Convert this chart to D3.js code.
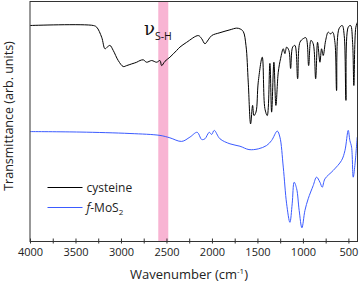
<!DOCTYPE html>
<html>
<head>
<meta charset="utf-8">
<script src="https://cdn.jsdelivr.net/npm/d3@7"></script>
<style>
  body { margin: 0; background: #fff; }
  svg { display: block; font-family: "Open Sans", sans-serif; }
</style>
</head>
<body>
<script>
// cysteine spectrum: wavenumber (cm-1) and transmittance (arb. units)
const cysWave = [4000, 3304, 3267, 3212, 3176, 3151, 3121, 3085, 3030, 2975, 2937, 2882, 2827, 2791, 2755, 2718,
  2663, 2608, 2571, 2553, 2516, 2462, 2388, 2352, 2278, 2150, 2113, 2077, 2041, 2003, 1912, 1802, 1729, 1692,
  1656, 1626, 1601, 1575, 1553, 1538, 1516, 1491, 1447, 1418, 1392, 1363, 1344, 1319, 1297, 1271, 1245, 1216,
  1198, 1179, 1154, 1135, 1113, 1088, 1058, 1033, 997, 967, 937, 912, 887, 860, 839, 813, 795, 777, 750, 722,
  695, 673, 648, 630, 604, 568, 546, 527, 502, 476, 454, 440, 418, 400];
const cysT = [90.0, 90.0, 89.3, 85.1, 80.3, 81.0, 81.7, 79.6, 75.4, 72.9, 73.3, 74.0, 74.7, 75.4, 75.7, 74.7,
  75.4, 74.7, 75.4, 73.3, 75.1, 76.8, 79.6, 81.0, 83.0, 85.8, 84.5, 82.4, 84.0, 85.8, 87.0, 88.2, 88.9, 88.6,
  87.5, 81.7, 66.4, 49.0, 56.7, 52.5, 53.9, 66.4, 76.8, 55.4, 52.5, 74.2, 53.9, 74.7, 56.7, 70.5, 76.3, 80.3,
  78.3, 81.0, 79.6, 72.1, 81.0, 81.7, 67.8, 83.0, 84.5, 84.9, 73.3, 83.8, 82.4, 67.8, 83.0, 74.7, 80.3, 77.5,
  83.8, 87.2, 86.5, 87.2, 83.0, 62.9, 88.6, 90.0, 85.8, 58.8, 89.3, 90.0, 83.0, 65.0, 89.3, 91.4];

// f-MoS2 spectrum
const mosWave = [4000, 3451, 2901, 2571, 2462, 2333, 2242, 2162, 2113, 2077, 2030, 2003, 1975, 1912, 1802, 1692,
  1593, 1491, 1399, 1344, 1282, 1253, 1216, 1179, 1143, 1118, 1096, 1069, 1041, 1011, 978, 942, 887, 850,
  813, 788, 758, 667, 575, 538, 502, 484, 465, 447, 429, 403];
const mosT = [45.8, 45.6, 45.0, 44.2, 43.2, 41.7, 43.5, 45.5, 42.5, 42.8, 45.5, 44.6, 46.3, 42.8, 40.7, 39.7,
  38.3, 38.6, 40.0, 42.1, 46.0, 43.5, 31.0, 15.7, 8.0, 15.7, 24.7, 22.0, 12.9, 5.7, 12.9, 17.8, 23.3, 26.8,
  24.7, 22.6, 26.1, 29.6, 33.8, 37.9, 46.3, 42.1, 39.3, 26.8, 31.7, 43.5];

const xTicks = [4000, 3500, 3000, 2500, 2000, 1500, 1000, 500];
const xMinor = [3750, 3250, 2750, 2250, 1750, 1250, 750];
const bandRange = [2590, 2480]; // S-H stretch region

const width = 360, height = 284;
const plotLeft = 30, plotRight = 357.5, plotTop = 1.5, plotBottom = 241.5;

const svg = d3.select('body').append('svg')
  .attr('width', width)
  .attr('height', height);

const x = d3.scaleLinear().domain([4000, 400]).range([plotLeft, plotRight]);
const y = d3.scaleLinear().domain([0, 100]).range([plotBottom, plotTop]);

// pink band
svg.append('rect')
  .attr('x', x(bandRange[0]))
  .attr('y', plotTop)
  .attr('width', x(bandRange[1]) - x(bandRange[0]))
  .attr('height', plotBottom - plotTop)
  .attr('fill', '#f8b4d3');

const line = d3.line()
  .x(d => x(d[0]))
  .y(d => y(d[1]))
  .curve(d3.curveCatmullRom.alpha(0.5));

svg.append('path')
  .datum(mosWave.map((w, i) => [w, mosT[i]]))
  .attr('d', line)
  .attr('fill', 'none')
  .attr('stroke', '#3b5bff')
  .attr('stroke-width', 1);

svg.append('path')
  .datum(cysWave.map((w, i) => [w, cysT[i]]))
  .attr('d', line)
  .attr('fill', 'none')
  .attr('stroke', '#000')
  .attr('stroke-width', 1);

// frame
svg.append('rect')
  .attr('x', plotLeft)
  .attr('y', plotTop)
  .attr('width', plotRight - plotLeft)
  .attr('height', plotBottom - plotTop)
  .attr('fill', 'none')
  .attr('stroke', '#333')
  .attr('stroke-width', 1);

// x axis
const gx = svg.append('g')
  .attr('transform', `translate(0,${plotBottom})`)
  .call(d3.axisBottom(x).tickValues(xTicks).tickFormat(d3.format('d'))
    .tickSize(2).tickSizeOuter(0).tickPadding(5));
gx.select('.domain').remove();
gx.selectAll('.tick line').attr('y1', -3).attr('stroke', '#333');
gx.selectAll('.tick text')
  .attr('font-size', 11)
  .attr('font-family', '"Open Sans", sans-serif')
  .attr('fill', '#222');

const gm = svg.append('g')
  .attr('transform', `translate(0,${plotBottom})`)
  .call(d3.axisBottom(x).tickValues(xMinor).tickSize(2).tickFormat(''));
gm.select('.domain').remove();
gm.selectAll('.tick line').attr('y1', -3).attr('stroke', '#333');

// axis titles
const xt = svg.append('text')
  .attr('x', 189)
  .attr('y', 279)
  .attr('text-anchor', 'middle')
  .attr('font-size', 13)
  .attr('fill', '#222');
xt.append('tspan').text('Wavenumber (cm');
xt.append('tspan').attr('dy', -5).attr('font-size', 8).text('-1');
xt.append('tspan').attr('dy', 5).text(')');

svg.append('text')
  .attr('transform', 'translate(12.5,116) rotate(-90)')
  .attr('text-anchor', 'middle')
  .attr('font-size', 12.5)
  .attr('fill', '#222')
  .text('Transmittance (arb. units)');

// nu S-H label
const nu = svg.append('text')
  .attr('x', 144)
  .attr('y', 35)
  .attr('font-size', 18)
  .attr('fill', '#111');
nu.append('tspan').attr('font-family', '"DejaVu Serif", serif').text('\u03bd');
nu.append('tspan').attr('dy', 5).attr('font-size', 10.5).text('S-H');

// legend
const legend = [
  {label: 'cysteine', color: '#000'},
  {label: 'MoS', color: '#3b5bff'}
];
legend.forEach((d, i) => {
  const ly = 187.5 + i * 20;
  svg.append('line')
    .attr('x1', 47.5).attr('x2', 82.5)
    .attr('y1', ly).attr('y2', ly)
    .attr('stroke', d.color)
    .attr('stroke-width', 1);
  const t = svg.append('text')
    .attr('x', 86.5)
    .attr('y', ly + 4.5)
    .attr('font-size', 12)
    .attr('fill', '#222');
  if (i === 0) {
    t.text(d.label);
  } else {
    t.append('tspan').attr('font-style', 'italic').text('f');
    t.append('tspan').text('-' + d.label);
    t.append('tspan').attr('dy', 3).attr('font-size', 8).text('2');
  }
});
</script>
</body>
</html>
